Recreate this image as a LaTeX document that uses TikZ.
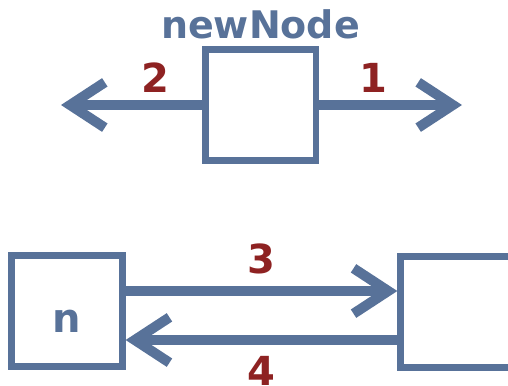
\documentclass[tikz,border=0pt]{standalone}
\usepackage{fontspec}
\setmainfont{DejaVu Sans}
\usetikzlibrary{arrows.meta}
\definecolor{boxblue}{RGB}{88,114,153}
\definecolor{stepred}{RGB}{142,34,34}
\tikzset{every picture/.style={line width=0.75pt}}

\begin{document}
\begin{tikzpicture}[x=0.75pt,y=0.75pt,yscale=-1,xscale=1,
	cell/.style={draw=boxblue,line width=5pt,minimum width=83pt,minimum height=83pt,inner sep=0pt,text=boxblue,font=\bfseries\fontsize{30}{30}\selectfont},
	link/.style={draw=boxblue,line width=7.5pt,-{Straight Barb[length=26pt,width=34pt]}},
	num/.style={text=stepred,font=\bfseries\fontsize{30}{30}\selectfont,anchor=base,inner sep=0pt}]
	\useasboundingbox (0,0) rectangle (508,386);
	\clip (0,0) rectangle (508,386);

	% Text Node
	\node [text=boxblue,font=\bfseries\fontsize{28.5}{28.5}\selectfont,anchor=base,inner sep=0pt] (title) at (260.5,38) {newNode};
	%Shape: Square
	\node [cell] (newNode) at (260.5,105) {};
	\coordinate (leftend) at (61,105);
	\coordinate (rightend) at (462,105);

	%Straight Lines
	\draw [link] (newNode.east) -- (rightend);
	\draw [link] (newNode.west) -- (leftend);

	% Text Node
	\node [num] (one) at (373.5,92) {1};
	% Text Node
	\node [num] (two) at (155.5,92) {2};

	%Shape: Square
	\node [cell,text height=31.5pt,text depth=0pt] (n) at (67,311) {n};
	%Shape: Square
	\node [cell] (next) at (456,312) {};

	%Straight Lines
	\draw [link] ([yshift=-15pt]n.east) -- ([yshift=-15.75pt]next.west);
	\draw [link] ([yshift=21pt]next.west) -- ([yshift=21.75pt]n.east);

	% Text Node
	\node [num] (three) at (261.5,273) {3};
	% Text Node
	\node [num] (four) at (261.5,385) {4};

\end{tikzpicture}
\end{document}
